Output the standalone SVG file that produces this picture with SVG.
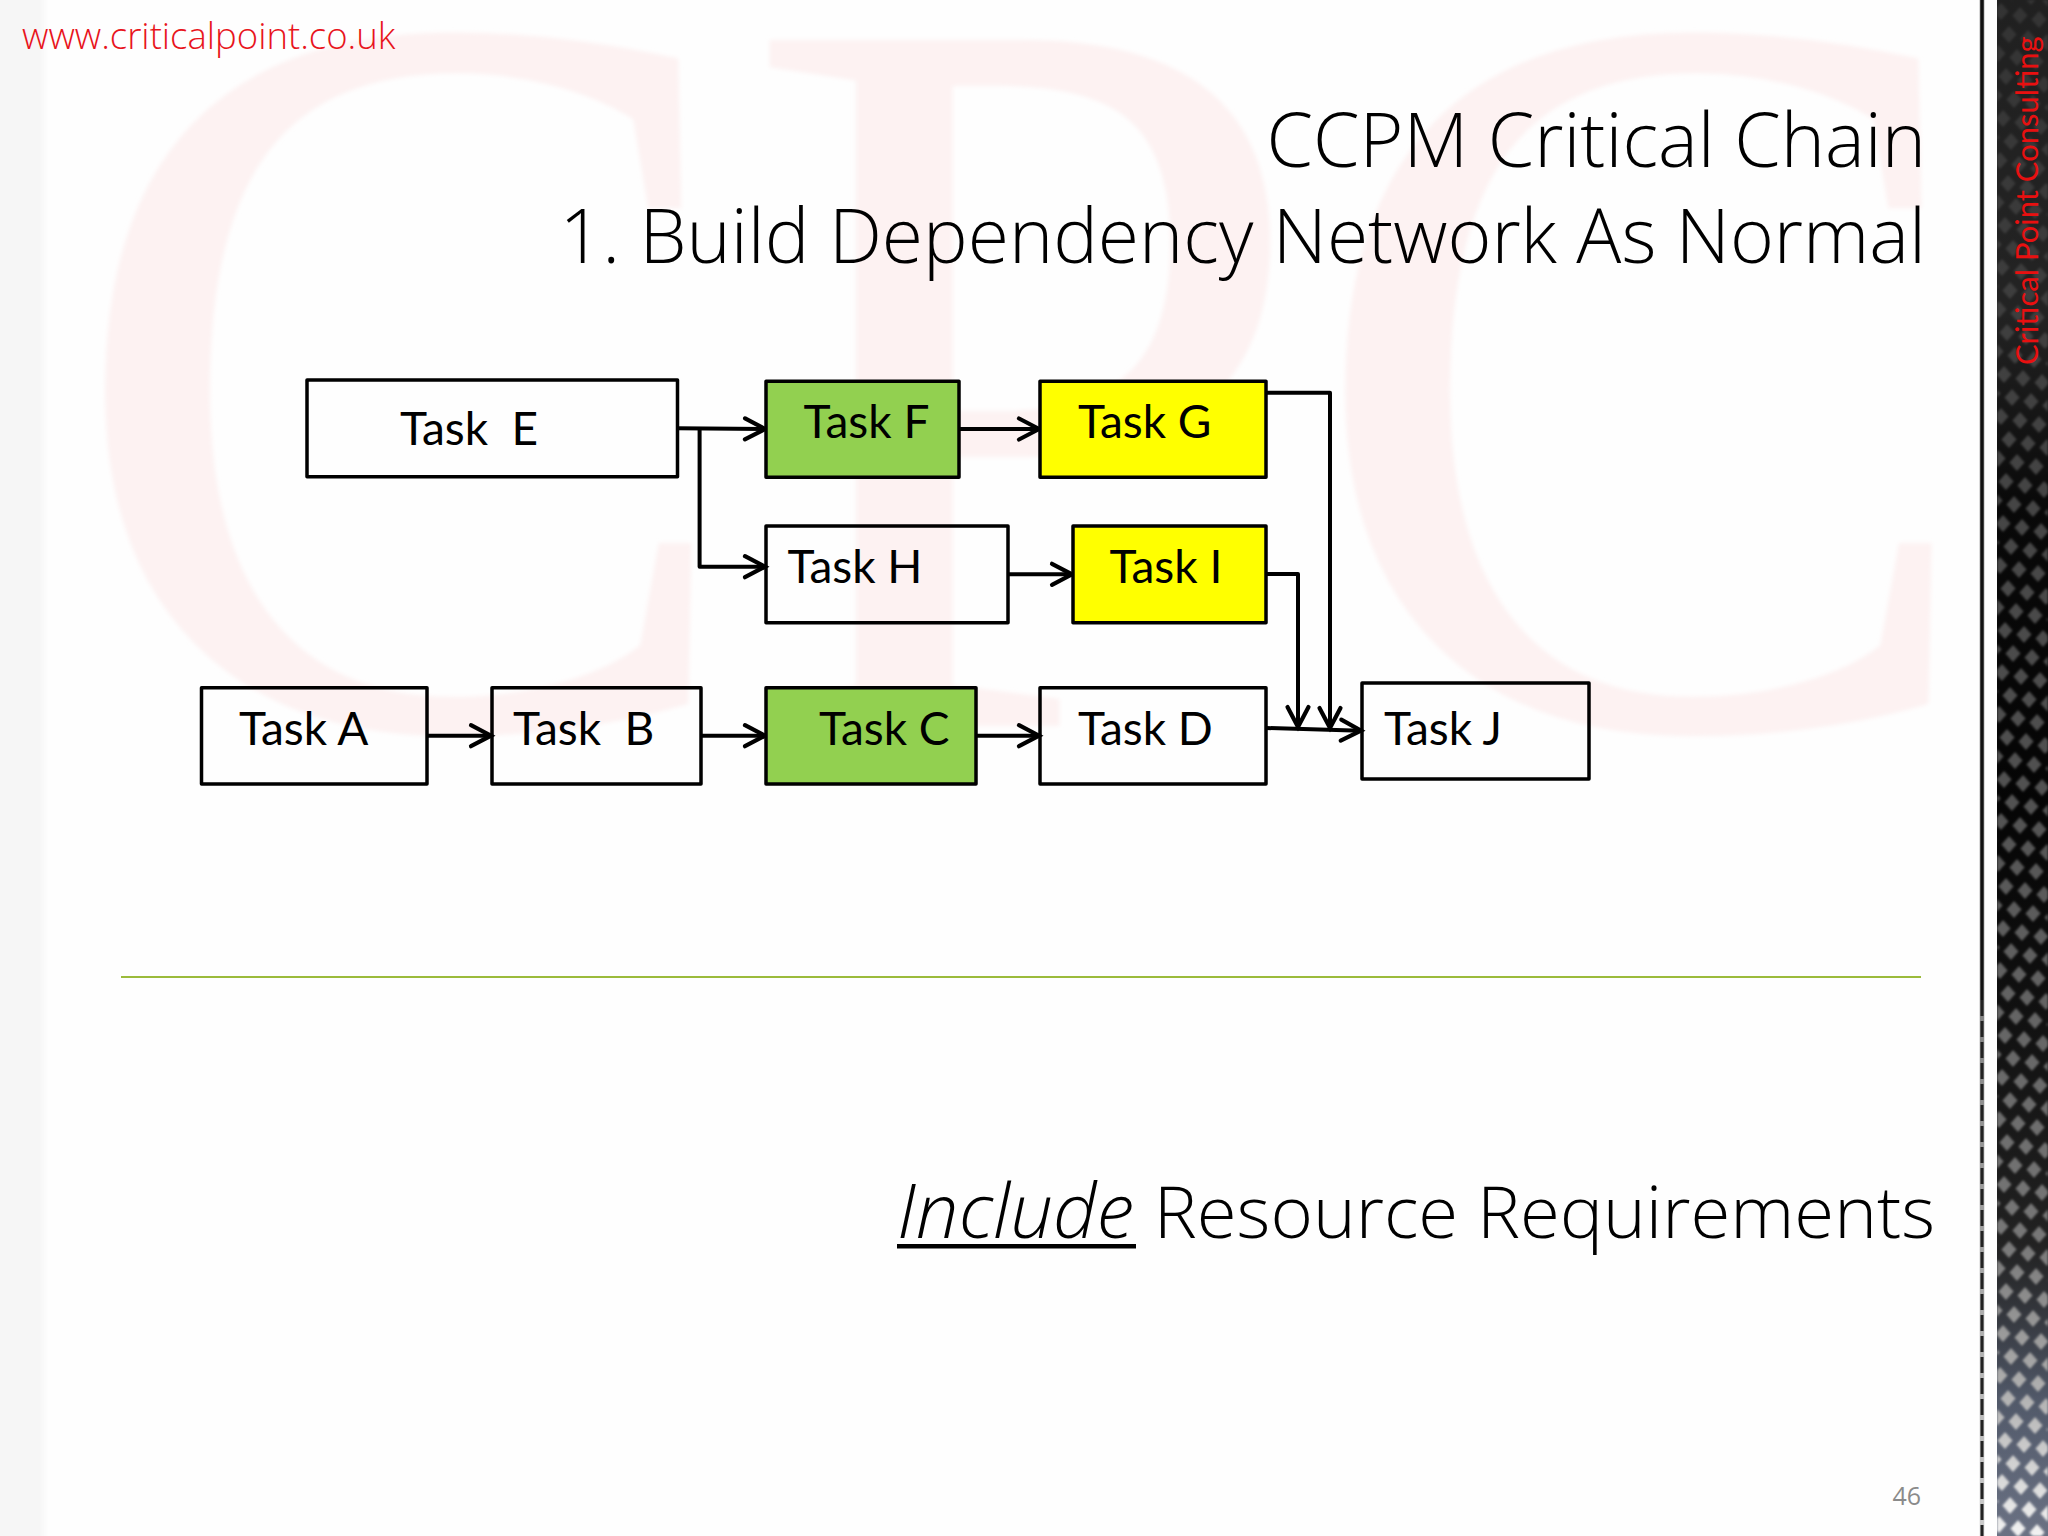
<svg xmlns="http://www.w3.org/2000/svg" width="2048" height="1536" viewBox="0 0 2048 1536">
<style>
.box{stroke:#000;stroke-width:3.5;fill:none;stroke-linejoin:round}
.green{fill:#92d050}.yellow{fill:#ffff00}
.lbl{font-family:"Lato","Liberation Sans",sans-serif;font-size:46px;fill:#000;white-space:pre}
.ttl{font-family:"Open Sans","Noto Sans",sans-serif;font-weight:300;font-size:75px;fill:#000;text-anchor:end}
.con{fill:none;stroke:#000;stroke-width:4;stroke-linejoin:round}
.arr{marker-end:url(#open)}
</style>
<defs>
<marker id="open" markerUnits="userSpaceOnUse" markerWidth="30" markerHeight="30" viewBox="-24 -15 30 30" refX="0" refY="0" orient="auto">
<path d="M-20,-10.5 L0,0 L-20,10.5" fill="none" stroke="#000" stroke-width="4.2" stroke-linecap="round"/>
</marker>
<linearGradient id="bandBase" x1="0" y1="0" x2="0" y2="1">
<stop offset="0" stop-color="#a0a0a0"/><stop offset=".2" stop-color="#909090"/><stop offset=".33" stop-color="#202020"/><stop offset=".52" stop-color="#101010"/><stop offset=".81" stop-color="#484848"/><stop offset=".91" stop-color="#737e95"/><stop offset="1" stop-color="#70778a"/>
</linearGradient>
<linearGradient id="bandShade" x1="0" y1="0" x2="0" y2="1">
<stop offset="0" stop-color="#000" stop-opacity=".8"/><stop offset=".33" stop-color="#000" stop-opacity=".73"/><stop offset=".52" stop-color="#000" stop-opacity=".68"/><stop offset=".81" stop-color="#000" stop-opacity=".53"/><stop offset=".91" stop-color="#000" stop-opacity=".3"/><stop offset="1" stop-color="#000" stop-opacity=".05"/>
</linearGradient>
<pattern id="carbon" patternUnits="userSpaceOnUse" width="20" height="20" patternTransform="matrix(.95 .2 -.55 .95 1997 0)">
<polygon points="17.04,8.52 14.62,17.98 2.96,11.48 5.38,2.02" fill="#fff"/>
</pattern>
<filter id="soft" x="-5%" y="-1%" width="110%" height="102%"><feGaussianBlur stdDeviation="1"/></filter>
<filter id="soft2" x="-20%" y="-1%" width="140%" height="102%"><feGaussianBlur stdDeviation="3"/></filter>
<filter id="soft3" x="-2%" y="-2%" width="104%" height="104%"><feGaussianBlur stdDeviation="2"/></filter>
<linearGradient id="rule" gradientUnits="userSpaceOnUse" x1="0" y1="0" x2="0" y2="1536">
<stop offset="0" stop-color="#666"/><stop offset=".6" stop-color="#777"/><stop offset="1" stop-color="#ccc"/>
</linearGradient>
</defs>

<rect width="2048" height="1536" fill="#fefefe"/>
<rect x="-10" y="-10" width="54" height="1560" fill="#f6f6f6" filter="url(#soft2)"/>
<text id="watermark" transform="translate(63,726) scale(1,1.02)" x="0" y="0" font-family="Liberation Serif,serif" font-size="1027" letter-spacing="-8" fill="#fdf2f2" filter="url(#soft3)">CPC</text>

<rect x="1997" y="0" width="51" height="1536" fill="url(#bandBase)"/>
<rect x="1997" y="0" width="51" height="1536" fill="url(#carbon)" filter="url(#soft)"/>
<rect x="1997" y="0" width="51" height="1536" fill="url(#bandShade)"/>
<line x1="1982" y1="0" x2="1982" y2="1536" stroke="url(#rule)" stroke-width="4.5"/>
<line x1="1982" y1="0" x2="1982" y2="1000" stroke="#111" stroke-width="3"/>
<line x1="1982" y1="1000" x2="1982" y2="1536" stroke="#222" stroke-width="3" stroke-dasharray="16 5"/>
<text id="side" transform="translate(2038,365) rotate(-90)" font-family="Lato,Liberation Sans,sans-serif" font-size="31" fill="#e81010">Critical Point Consulting</text>

<text id="url" x="22" y="49" font-family="Open Sans,Noto Sans,sans-serif" font-weight="300" font-size="36.5" fill="#e8141c">www.criticalpoint.co.uk</text>
<text id="title1" class="ttl" x="1926" y="167">CCPM Critical Chain</text>
<text id="title2" class="ttl" x="1926" y="263">1. Build Dependency Network As Normal</text>

<g id="connectors">
<path class="con arr" d="M677.5,428.3 L765,429"/>
<path class="con arr" d="M699.6,428.5 V566.7 H765"/>
<path class="con arr" d="M959,429 H1039"/>
<path class="con arr" d="M1008,574.3 H1072"/>
<path class="con arr" d="M427,735.7 H491"/>
<path class="con arr" d="M701,735.7 H765"/>
<path class="con arr" d="M976,735.7 H1039"/>
<path class="con arr" d="M1266,392.7 H1330 V728"/>
<path class="con arr" d="M1266,574 H1298 V727"/>
<path class="con arr" d="M1266,728 L1361,730.7"/>
</g>

<g id="task-e"><rect class="box" x="307" y="380" width="370.5" height="96.7"/><text class="lbl" x="400" y="445">Task  E</text></g>
<g id="task-f"><rect class="box green" x="766" y="381.3" width="193" height="96"/><text class="lbl" x="803.6" y="438.3">Task F</text></g>
<g id="task-g"><rect class="box yellow" x="1040" y="381.3" width="226" height="96"/><text class="lbl" x="1078" y="438.3">Task G</text></g>
<g id="task-h"><rect class="box" x="766" y="526" width="242" height="96.7"/><text class="lbl" x="787.5" y="583.3">Task H</text></g>
<g id="task-i"><rect class="box yellow" x="1073" y="526" width="193" height="96.7"/><text class="lbl" x="1109.6" y="583.3">Task I</text></g>
<g id="task-a"><rect class="box" x="201.5" y="687.7" width="225.5" height="96.3"/><text class="lbl" x="239" y="745">Task A</text></g>
<g id="task-b"><rect class="box" x="492" y="687.7" width="209" height="96.3"/><text class="lbl" x="513" y="745">Task  B</text></g>
<g id="task-c"><rect class="box green" x="766" y="687.7" width="210" height="96.3"/><text class="lbl" x="819" y="745">Task C</text></g>
<g id="task-d"><rect class="box" x="1040" y="687.7" width="226" height="96.3"/><text class="lbl" x="1078" y="745">Task D</text></g>
<g id="task-j"><rect class="box" x="1362" y="683" width="227" height="96"/><text class="lbl" x="1384" y="745">Task J</text></g>

<line id="rule-green" x1="121" y1="977" x2="1921" y2="977" stroke="#9bbb3b" stroke-width="2"/>

<text id="sub-a" x="897" y="1238" font-family="Open Sans,Noto Sans,sans-serif" font-weight="300" font-style="italic" font-size="76" fill="#000">Include</text>
<rect x="897" y="1244" width="239" height="4.5" fill="#000"/>
<text id="sub-b" x="1935" y="1238" font-family="Open Sans,Noto Sans,sans-serif" font-weight="300" font-size="72.5" fill="#000" text-anchor="end">Resource Requirements</text>

<text id="page" x="1921" y="1505" font-family="Open Sans,Noto Sans,sans-serif" font-size="25" fill="#8a8a8a" text-anchor="end">46</text>
</svg>
